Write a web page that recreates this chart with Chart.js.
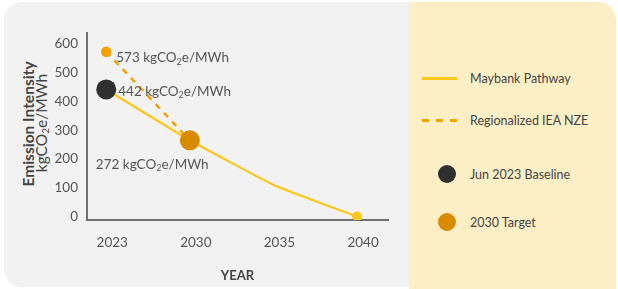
<!DOCTYPE html>
<html lang="en">
<head>
<meta charset="UTF-8">
<title>Emission Intensity Pathway</title>
<script src="https://cdn.jsdelivr.net/npm/chart.js"></script>
<style>
  body { margin: 0; background: #fff; font-family: Lato, sans-serif; }
  #wrap { position: relative; width: 618px; height: 289px; overflow: hidden; }
  #plotPanel {
    position: absolute; left: 4px; top: 2px; width: 420px; height: 285px;
    background: #f2f2f2; border-radius: 18px 0 0 18px;
  }
  #legendPanel {
    position: absolute; left: 409px; top: 2px; width: 207px; height: 290px;
    background: #fdefc5; border-radius: 0 18px 0 0;
  }
  #chartBox { position: absolute; left: 0; top: 0; width: 410px; height: 289px; }
  .ytitle {
    position: absolute; white-space: nowrap; color: #444;
    transform: translate(-50%, -50%) rotate(-90deg);
  }
  #yt1 { left: 28px; top: 124px; font-weight: bold; font-size: 15.5px; }
  #yt2 { left: 41px; top: 123px; font-size: 15.5px; }
  .ytitle sub { font-size: 10px; vertical-align: -2px; }
  .item { position: absolute; left: 0; width: 207px; height: 20px; }
  .item span { position: absolute; left: 61px; top: 50%; transform: translateY(-50%);
    font-size: 12.5px; color: #444; white-space: nowrap; }
  .swatch { position: absolute; }
</style>
</head>
<body>
<div id="wrap">
  <div id="plotPanel"></div>
  <div id="legendPanel"></div>
  <div class="ytitle" id="yt1">Emission Intensity</div>
  <div class="ytitle" id="yt2">kgCO<sub>2</sub>e/MWh</div>
  <div id="chartBox"><canvas id="chart"></canvas></div>
</div>

<script>
  // x positions are the category index into yearLabels
  const yearLabels = ['2023', '2030', '2035', '2040'];
  const yTicks = [0, 100, 200, 300, 400, 500, 600];

  const pathwayX = [0, 1, 2, 3];
  const pathwayValues = [442, 265, 110, 0];

  const ieaX = [0, 1];
  const ieaValues = [573, 265];

  const baselineX = [0];
  const baselineValues = [442];

  const targetX = [1];
  const targetValues = [265];

  const seriesNames = ['Maybank Pathway', 'Regionalized IEA NZE', 'Jun 2023 Baseline', '2030 Target'];

  const colors = {
    pathway: '#ffc61a',
    iea: '#f2a300',
    baseline: '#2f2f2f',
    target: '#d98b00',
    text: '#555'
  };

  const toPoints = (xs, ys) => xs.map((x, i) => ({ x, y: ys[i] }));

  // value labels: dataset index, point index, number text
  const valueNotes = [
    { ds: 1, i: 0, num: '573', dx: 10, dy: 6 },
    { ds: 2, i: 0, num: '442', dx: 12, dy: 2 },
    { ds: 3, i: 0, num: '272', dx: -94, dy: 24 }
  ];

  const notePlugin = {
    id: 'notes',
    afterDatasetsDraw(chart) {
      const ctx = chart.ctx;
      ctx.save();
      ctx.fillStyle = colors.text;
      ctx.textBaseline = 'middle';
      valueNotes.forEach(n => {
        const p = chart.getDatasetMeta(n.ds).data[n.i];
        let x = p.x + n.dx;
        const y = p.y + n.dy;
        ctx.font = '13.5px Lato';
        const a = n.num + ' kgCO';
        ctx.fillText(a, x, y);
        x += ctx.measureText(a).width;
        ctx.font = '9px Lato';
        ctx.fillText('2', x, y + 4);
        x += ctx.measureText('2').width;
        ctx.font = '13.5px Lato';
        ctx.fillText('e/MWh', x, y);
      });
      ctx.restore();
    }
  };

  new Chart(document.getElementById('chart'), {
    type: 'scatter',
    data: {
      datasets: [
        {
          label: seriesNames[0],
          data: toPoints(pathwayX, pathwayValues),
          showLine: true,
          borderColor: colors.pathway,
          backgroundColor: colors.pathway,
          borderWidth: 2.2,
          pointRadius: [0, 0, 0, 4],
          tension: 0.1,
          order: 3
        },
        {
          label: seriesNames[1],
          data: toPoints(ieaX, ieaValues),
          showLine: true,
          borderColor: colors.iea,
          backgroundColor: colors.iea,
          borderWidth: 2.5,
          borderDash: [6, 6],
          pointRadius: [4, 0],
          order: 4
        },
        {
          label: seriesNames[2],
          data: toPoints(baselineX, baselineValues),
          backgroundColor: colors.baseline,
          borderWidth: 0,
          pointRadius: 10,
          order: 1
        },
        {
          label: seriesNames[3],
          data: toPoints(targetX, targetValues),
          backgroundColor: colors.target,
          borderWidth: 0,
          pointRadius: 10,
          order: 2
        }
      ]
    },
    options: {
      responsive: true,
      maintainAspectRatio: false,
      animation: false,
      layout: { padding: { top: 33, right: 22, left: 0, bottom: 0 } },
      plugins: { legend: { display: false }, tooltip: { enabled: false } },
      scales: {
        x: {
          type: 'linear',
          min: -0.23,
          max: 3.37,
          afterBuildTicks: s => { s.ticks = yearLabels.map((_, i) => ({ value: i })); },
          afterFit: s => { s.height = 69; },
          grid: { display: false, drawTicks: false },
          border: { display: true, color: '#707070', width: 2 },
          ticks: {
            padding: 15,
            labelOffset: 6,
            color: colors.text,
            font: { family: 'Lato', size: 13.5 },
            callback: v => yearLabels[v]
          },
          title: {
            display: true,
            text: 'YEAR',
            color: '#444',
            font: { family: 'Lato', size: 13, weight: 'bold' },
            padding: { top: 0, bottom: 5 }
          }
        },
        y: {
          min: -12,
          max: 638,
          afterBuildTicks: s => { s.ticks = yTicks.map(v => ({ value: v })); },
          afterFit: s => { s.width = 87; },
          grid: { display: false, drawTicks: false },
          border: { display: true, color: '#707070', width: 2 },
          ticks: {
            padding: 9,
            color: colors.text,
            font: { family: 'Lato', size: 13.5 }
          }
        }
      }
    },
    plugins: [notePlugin]
  });

  // legend in the right panel
  const legendPanel = document.getElementById('legendPanel');
  const legendY = [76, 118, 172, 220];
  const dashFill = 'repeating-linear-gradient(90deg,' + colors.iea + ' 0 7px, transparent 7px 14px)';
  const swatches = [
    '<div class="swatch" style="left:13px;top:9px;width:35px;height:2.5px;background:' + colors.pathway + '"></div>',
    '<div class="swatch" style="left:13px;top:9px;width:35px;height:2.5px;background:' + dashFill + '"></div>',
    '<div class="swatch" style="left:29px;top:1px;width:18px;height:18px;border-radius:50%;background:' + colors.baseline + '"></div>',
    '<div class="swatch" style="left:29px;top:1px;width:18px;height:18px;border-radius:50%;background:' + colors.target + '"></div>'
  ];
  seriesNames.forEach((name, i) => {
    const d = document.createElement('div');
    d.className = 'item';
    d.style.top = (legendY[i] - 10) + 'px';
    d.innerHTML = swatches[i] + '<span>' + name + '</span>';
    legendPanel.appendChild(d);
  });
</script>
</body>
</html>
